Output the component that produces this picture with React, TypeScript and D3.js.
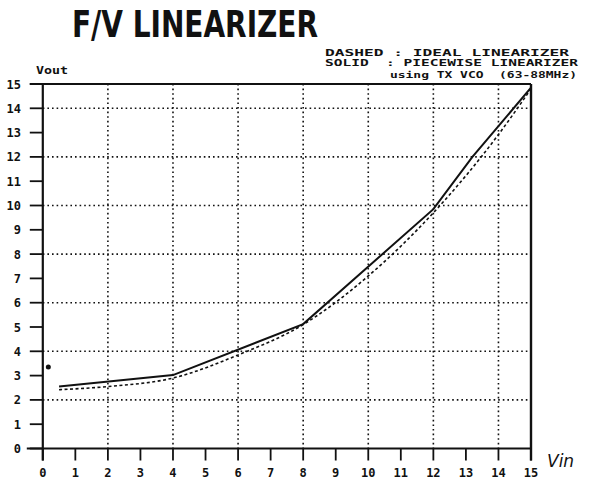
import React from "react";
import * as d3 from "d3";

const xTicks = [0, 1, 2, 3, 4, 5, 6, 7, 8, 9, 10, 11, 12, 13, 14, 15];
const yTicks = [0, 1, 2, 3, 4, 5, 6, 7, 8, 9, 10, 11, 12, 13, 14, 15];
const gridX = [2, 4, 6, 8, 10, 12, 14];
const gridY = [2, 4, 6, 8, 10, 12, 14];

// Solid: piecewise linearizer
const solidVin = [0.5, 4, 8, 12, 13.2, 15];
const solidVout = [2.55, 3.02, 5.12, 9.85, 12.0, 14.85];

// Dashed: ideal linearizer
const idealVin = [0.5, 2, 4, 6, 8, 10, 12, 14, 15];
const idealVout = [2.42, 2.55, 2.9, 3.85, 5.1, 7.1, 9.7, 12.92, 14.8];

// Stray data dot
const dotVin = [0.17];
const dotVout = [3.35];

const titleText = "F/V LINEARIZER";
const legendLines = ["DASHED : IDEAL LINEARIZER", "SOLID  : PIECEWISE LINEARIZER"];
const noteText = "using TX VCO  (63-88MHz)";

export default function App() {
  const W = 606, H = 480;
  const x = d3.scaleLinear().domain([0, 15]).range([42.8, 531]);
  const y = d3.scaleLinear().domain([0, 15]).range([448.5, 84]);
  const ink = "#111";

  const solidPts = solidVin.map((v, i) => [v, solidVout[i]] as [number, number]);
  const idealPts = idealVin.map((v, i) => [v, idealVout[i]] as [number, number]);
  const solidLine = d3.line<[number, number]>().x(d => x(d[0])).y(d => y(d[1]));
  const idealLine = d3.line<[number, number]>().x(d => x(d[0])).y(d => y(d[1])).curve(d3.curveMonotoneX);

  const mono = "'DejaVu Sans Mono', monospace";
  const cond = "'DejaVu Sans Condensed', 'Liberation Sans Narrow', 'DejaVu Sans', sans-serif";

  return (
    <div style={{ position: "absolute", left: 0, top: 0 }}>
      <svg width={W} height={H} style={{ display: "block", background: "#fff" }}>
        {/* title */}
        <text x={72} y={37} fontFamily={cond} fontWeight="bold" fontSize={37} fill={ink}
          textLength={246} lengthAdjust="spacingAndGlyphs">{titleText}</text>
        {legendLines.map((t, i) => (
          <text key={i} x={325} y={55.5 + i * 10.5} fontFamily={mono} fontWeight="bold" fontSize={9.5}
            fill={ink} textLength={i === 0 ? 244 : 253} lengthAdjust="spacingAndGlyphs" xmlSpace="preserve">{t}</text>
        ))}
        <text x={390} y={77.5} fontFamily={mono} fontWeight="bold" fontSize={9.5} fill={ink}
          textLength={187} lengthAdjust="spacingAndGlyphs" xmlSpace="preserve">{noteText}</text>
        <text x={36} y={74} fontFamily={mono} fontWeight="bold" fontSize={11} fill={ink}
          textLength={32} lengthAdjust="spacingAndGlyphs">Vout</text>

        {/* grid */}
        {gridX.map(v => (
          <line key={"gx" + v} x1={x(v)} x2={x(v)} y1={y(15)} y2={y(0)} stroke={ink}
            strokeWidth={1.6} strokeDasharray="1.6,3" />
        ))}
        {gridY.map(v => (
          <line key={"gy" + v} x1={x(0)} x2={x(15)} y1={y(v)} y2={y(v)} stroke={ink}
            strokeWidth={1.6} strokeDasharray="1.6,3" />
        ))}

        {/* frame */}
        <line x1={x(0) - 16} x2={x(15)} y1={y(0)} y2={y(0)} stroke={ink} strokeWidth={2.2} />
        <line x1={x(0) - 13} x2={x(15)} y1={y(15)} y2={y(15)} stroke={ink} strokeWidth={2.2} />
        <line x1={x(0)} x2={x(0)} y1={y(15)} y2={y(0) + 12} stroke={ink} strokeWidth={2.2} />
        <line x1={x(15)} x2={x(15)} y1={y(15)} y2={y(0) + 12} stroke={ink} strokeWidth={2.4} />

        {/* y ticks */}
        {yTicks.map(v => (
          <g key={"yt" + v}>
            <line x1={x(0) - 13} x2={x(0)} y1={y(v)} y2={y(v)} stroke={ink} strokeWidth={1.8} />
            <text x={21} y={y(v) + 4.5} textAnchor="end" fontFamily={mono} fontWeight="bold"
              fontSize={12} fill={ink}>{v}</text>
          </g>
        ))}
        {/* x ticks */}
        {xTicks.map(v => (
          <g key={"xt" + v}>
            <line x1={x(v)} x2={x(v)} y1={y(0)} y2={y(0) + 12} stroke={ink} strokeWidth={1.8} />
            <text x={x(v)} y={477} textAnchor="middle" fontFamily={mono} fontWeight="bold"
              fontSize={12} fill={ink}>{v}</text>
          </g>
        ))}
        <text x={547} y={467} fontFamily="'DejaVu Sans', sans-serif" fontStyle="italic" fontSize={17}
          fill={ink}>Vin</text>

        {/* curves */}
        <path d={idealLine(idealPts) || ""} fill="none" stroke={ink} strokeWidth={1.6} strokeDasharray="3,2.5" />
        <path d={solidLine(solidPts) || ""} fill="none" stroke={ink} strokeWidth={2} />
        {dotVin.map((v, i) => (
          <circle key={"d" + i} cx={x(v)} cy={y(dotVout[i])} r={2.5} fill={ink} />
        ))}
      </svg>
    </div>
  );
}
